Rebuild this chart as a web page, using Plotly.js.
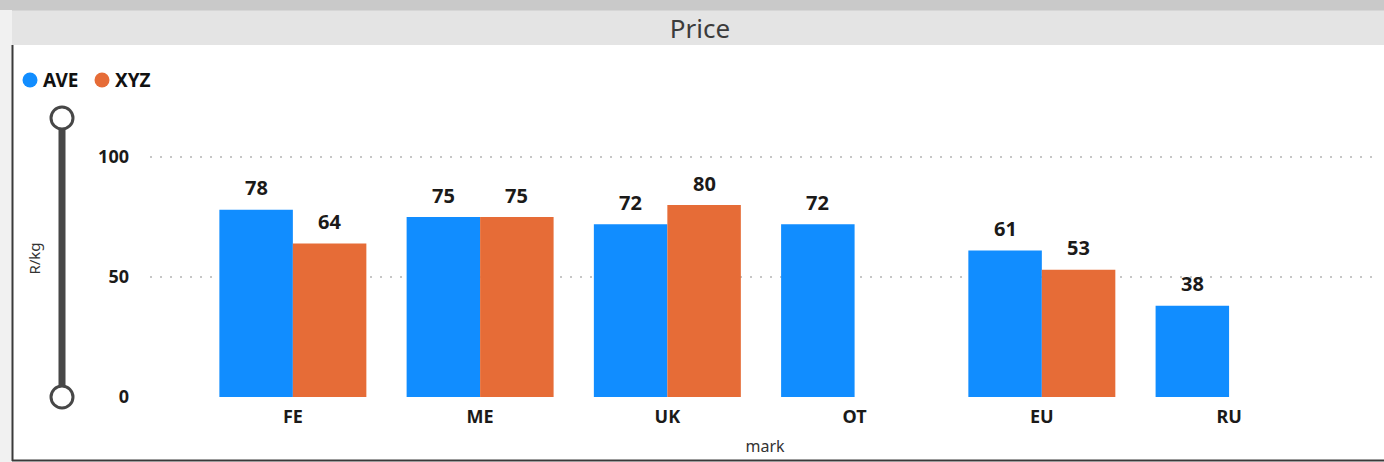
<!DOCTYPE html>
<html>
<head>
<meta charset="utf-8">
<script src="https://cdn.plot.ly/plotly-3.0.1.min.js"></script>
<style>html,body{margin:0;padding:0;background:#fff;}#chart{width:1384px;height:462px;}</style>
</head>
<body>
<div id="chart"></div>
<script>
// ---- data ----
const categories = ['FE', 'ME', 'UK', 'OT', 'EU', 'RU'];
const aveValues = [78, 75, 72, 72, 61, 38];
const xyzValues = [64, 75, 80, null, 53, null];
const seriesNames = ['AVE', 'XYZ'];
const yTickValues = [0, 50, 100];
const chartTitle = 'Price';
const xTitle = 'mark';
const yTitle = 'R/kg';

// ---- styles ----
const BLUE = '#118DFF';
const ORANGE = '#E66C37';
const FONT = 'Noto Sans, Open Sans, sans-serif';
const TXT = '#1b1a19';
const W = 1384, H = 462;
const M = {l: 150, r: 4, t: 120, b: 65};
const plotW = W - M.l - M.r, plotH = H - M.t - M.b;
const px = x => (x - M.l) / plotW;          // pixel -> paper x
const py = y => (H - M.b - y) / plotH;      // pixel -> paper y
const BARGAP = 0.215;

const traces = [
  {type: 'bar', name: seriesNames[0], x: categories, y: aveValues,
   marker: {color: BLUE}, hoverinfo: 'x+y+name'},
  {type: 'bar', name: seriesNames[1], x: categories, y: xyzValues,
   marker: {color: ORANGE}, hoverinfo: 'x+y+name'}
];

// value labels above bars
const annotations = [];
const half = (1 - BARGAP) / 4;
[aveValues, xyzValues].forEach((vals, s) => {
  vals.forEach((v, i) => {
    if (v === null) return;
    annotations.push({
      x: i + (s === 0 ? -half : half), y: v, xref: 'x', yref: 'y',
      text: String(v), showarrow: false, yanchor: 'middle', yshift: 22,
      font: {family: FONT, size: 20, color: TXT, weight: 'bold'}
    });
  });
});
// legend texts
annotations.push({xref: 'paper', yref: 'paper', x: px(41), y: py(80), xanchor: 'left', yanchor: 'middle',
  text: seriesNames[0], showarrow: false, font: {family: FONT, size: 19, color: '#111', weight: 'bold'}});
annotations.push({xref: 'paper', yref: 'paper', x: px(113), y: py(80), xanchor: 'left', yanchor: 'middle',
  text: seriesNames[1], showarrow: false, font: {family: FONT, size: 19, color: '#111', weight: 'bold'}});

const rect = (x0, y0, x1, y1, fill) => ({type: 'rect', xref: 'paper', yref: 'paper', layer: 'below',
  x0: px(x0), x1: px(x1), y0: py(y0), y1: py(y1), fillcolor: fill, line: {width: 0}});
const line = (x0, y0, x1, y1, color, w, layer) => ({type: 'line', xref: 'paper', yref: 'paper', layer: layer || 'below',
  x0: px(x0), x1: px(x1), y0: py(y0), y1: py(y1), line: {color: color, width: w}});
const circle = (cx, cy, r, fill, lc, lw) => ({type: 'circle', xref: 'paper', yref: 'paper', layer: 'above',
  x0: px(cx - r), x1: px(cx + r), y0: py(cy + r), y1: py(cy - r), fillcolor: fill, line: {color: lc, width: lw}});

const shapes = [
  rect(0, 0, W, 10, '#c9c9c9'),
  rect(0, 10, 12, H, '#f1f1f1'),
  rect(12, 10, W, 45, '#e4e4e4'),
  line(12, 10.5, W, 10.5, '#d6d6d6', 1),
  line(12.5, 45, 12.5, 461, '#3a3a3a', 2),
  line(12, 460.5, W, 460.5, '#3a3a3a', 2),
  line(62, 118, 62, 397, '#474747', 7, 'above'),
  circle(62, 118, 11, '#ffffff', '#474747', 3),
  circle(62, 397, 11, '#ffffff', '#474747', 3),
  circle(30, 80, 7.5, BLUE, BLUE, 0),
  circle(102, 80, 7.5, ORANGE, ORANGE, 0)
];

const layout = {
  width: W, height: H,
  margin: M,
  paper_bgcolor: '#ffffff', plot_bgcolor: '#ffffff',
  showlegend: false,
  barmode: 'group', bargap: BARGAP, bargroupgap: 0,
  title: {text: chartTitle, xref: 'container', yref: 'container', x: 700 / W, y: 1 - 29 / H,
          xanchor: 'center', yanchor: 'middle', font: {family: FONT, size: 26, color: '#3b3b3b'}},
  xaxis: {type: 'category', range: [-0.763, 5.806], showgrid: false, zeroline: false, showline: false,
          ticks: '', ticklabelstandoff: 7,
          tickfont: {family: FONT, size: 18, color: TXT, weight: 'bold'},
          title: {text: xTitle, standoff: 13, font: {family: FONT, size: 16, color: '#333'}}},
  yaxis: {range: [0, plotH / 2.4], tickvals: yTickValues, showgrid: true, gridcolor: '#c6c6c6',
          griddash: '2px,8px', gridwidth: 1.5, zeroline: false, showline: false, ticks: '',
          ticklabelstandoff: 20,
          tickfont: {family: FONT, size: 18, color: TXT, weight: 'bold'},
          title: {text: yTitle, standoff: 53, font: {family: FONT, size: 15, color: '#333'}}},
  annotations: annotations,
  shapes: shapes
};

Plotly.newPlot('chart', traces, layout, {displayModeBar: false, staticPlot: false});
</script>
</body>
</html>
